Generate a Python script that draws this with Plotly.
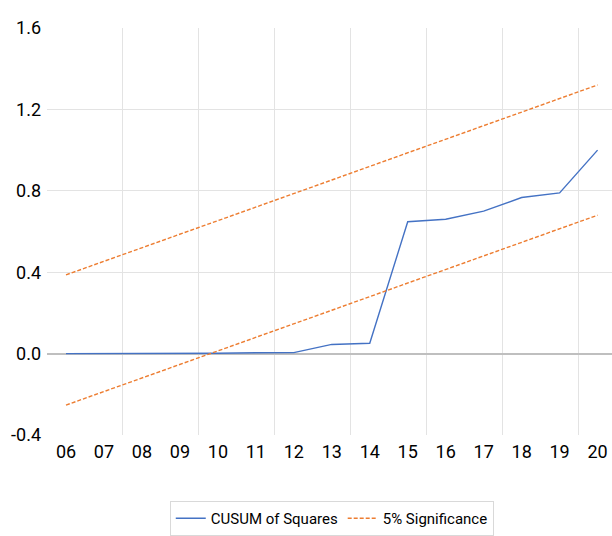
import plotly.graph_objects as go

years = ["06", "07", "08", "09", "10", "11", "12", "13", "14", "15", "16", "17", "18", "19", "20"]
cusum = [0.0, 0.0, 0.0, 0.0, 0.002, 0.004, 0.005, 0.045, 0.051, 0.648, 0.66, 0.70, 0.767, 0.79, 1.0]
upper = [0.387, 0.453, 0.520, 0.587, 0.653, 0.720, 0.787, 0.853, 0.920, 0.987, 1.053, 1.120, 1.187, 1.253, 1.320]
lower = [-0.253, -0.187, -0.120, -0.053, 0.013, 0.080, 0.147, 0.213, 0.280, 0.347, 0.413, 0.480, 0.547, 0.613, 0.680]
y_ticks = [-0.4, 0.0, 0.4, 0.8, 1.2, 1.6]
y_grid = [0.4, 0.8, 1.2]

xpos = list(range(len(years)))
x_grid = [i + 0.5 for i in xpos[1:-1:2]]

FONT = "Liberation Sans Narrow, Arial Narrow, Roboto, sans-serif"
blue = "#4472C4"
orange = "#ED7D31"

fig = go.Figure()
fig.add_trace(go.Scatter(x=xpos, y=cusum, mode="lines", name="CUSUM of Squares",
                         line=dict(color=blue, width=1.4)))
fig.add_trace(go.Scatter(x=xpos, y=upper, mode="lines", name="5% Significance",
                         line=dict(color=orange, width=1.4, dash="4px,2px")))
fig.add_trace(go.Scatter(x=xpos, y=lower, mode="lines", name="5% Significance",
                         showlegend=False,
                         line=dict(color=orange, width=1.4, dash="4px,2px")))

xr = [-0.5, 14.38]
yr = [-0.4, 1.6]

fig.update_layout(
    width=612, height=536,
    margin=dict(l=47, r=0, t=28, b=101, autoexpand=False),
    paper_bgcolor="white", plot_bgcolor="white",
    font=dict(family=FONT, color="#000000"),
    showlegend=True,
    legend=dict(orientation="h", x=0.504, xanchor="center", y=-0.162, yanchor="top",
                bordercolor="#D9D9D9", borderwidth=1, font=dict(size=15, family=FONT),
                tracegroupgap=0),
    xaxis=dict(range=xr, tickmode="array", tickvals=x_grid, showticklabels=False,
               showgrid=True, gridcolor="#E3E3E3", gridwidth=1, zeroline=False,
               showline=False, ticks="", automargin=False),
    yaxis=dict(range=yr, tickmode="array", tickvals=y_grid, showticklabels=False,
               showgrid=True, gridcolor="#E3E3E3", gridwidth=1,
               zeroline=True, zerolinecolor="#BFBFBF", zerolinewidth=1.5,
               showline=False, ticks="", automargin=False),
    xaxis2=dict(range=xr, overlaying="x", side="bottom", tickmode="array",
                tickvals=xpos, ticktext=years, showgrid=False, zeroline=False,
                showline=False, ticks="", tickfont=dict(size=18, family=FONT),
                ticklabelstandoff=4, automargin=False),
    yaxis2=dict(range=yr, overlaying="y", side="left", tickmode="array",
                tickvals=y_ticks, ticktext=[f"{v:.1f}" for v in y_ticks],
                showgrid=False, zeroline=False, showline=False, ticks="",
                tickfont=dict(size=18, family=FONT), ticklabelstandoff=5,
                automargin=False),
)
fig.add_trace(go.Scatter(x=[None], y=[None], xaxis="x2", yaxis="y2", showlegend=False,
                         hoverinfo="skip"))

fig.write_html("out.html", config={"displayModeBar": False},
               post_script="document.body.style.margin='0px';document.body.style.overflow='hidden';")
